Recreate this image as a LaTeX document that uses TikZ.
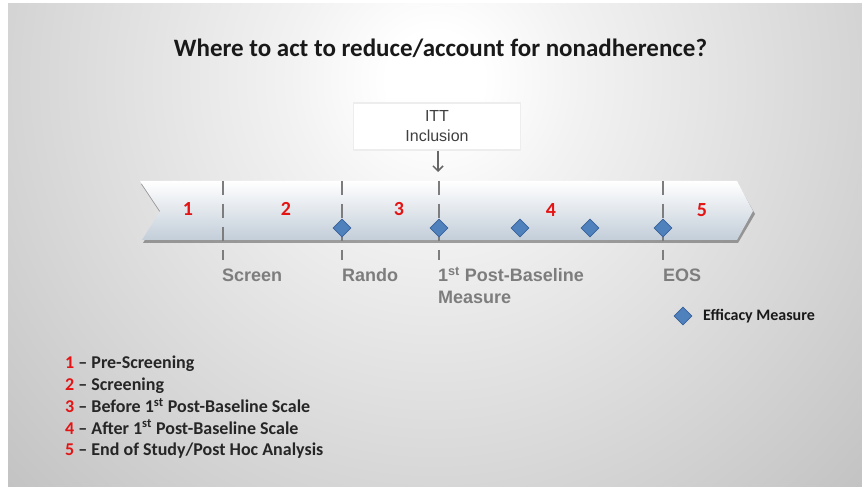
\documentclass[tikz,border=0pt]{standalone}
\usepackage{fontspec}
\setmainfont{Carlito}
\newfontfamily\arialf{Liberation Sans}
\usetikzlibrary{shapes.geometric}
\usetikzlibrary{arrows.meta}
\usetikzlibrary{positioning}
\definecolor{effblue}{RGB}{79,129,189}
\definecolor{effedge}{RGB}{56,98,155}
\definecolor{numred}{RGB}{228,20,20}
\definecolor{tickgray}{RGB}{125,125,125}
\definecolor{barlow}{RGB}{195,206,217}
\pgfdeclareradialshading{slidebg}{\pgfpoint{0bp}{0bp}}{color(0bp)=(white); color(2bp)=(white); color(6bp)=(gray!10!white); color(15bp)=(gray!28!white); color(25bp)=(gray!48!white); color(32bp)=(gray!64!white); color(36bp)=(gray!82!white); color(72bp)=(gray!84!white)}

\begin{document}
\begin{tikzpicture}[x=1pt, y=1pt,
  diam/.style={diamond, draw=effedge, fill=effblue, line width=0.8pt, inner sep=0pt, minimum width=18pt, minimum height=18pt},
  phase/.style={font=\bfseries\fontsize{20}{24}\selectfont, text=numred},
  phasetick/.style={draw=tickgray, line width=2pt, dash pattern=on 14pt off 9pt},
  ticklabel/.style={anchor=base west, inner sep=0pt, font=\arialf\bfseries\fontsize{18}{21}\selectfont, text=tickgray},
  listitem/.style={anchor=base west, inner sep=0pt, font=\bfseries\fontsize{18}{21}\selectfont, text=black!85}]
 \useasboundingbox (0,0) rectangle (862,487);
 \fill[white] (0,0) rectangle (862,487);
 \begin{scope}
   \clip (8,0) rectangle (862,483);
   \shade[shading=slidebg] (-165,-193) rectangle (1035,1007);
 \end{scope}

 \node[font=\bfseries\fontsize{25}{30}\selectfont, text=black!90, anchor=base, inner sep=0pt] (title) at (440.5,430) {Where to act to reduce/account for nonadherence?};

 \fill[gray!60!black, opacity=0.5] (141,303) -- (738,303) -- (755,273) -- (738,244) -- (143,244) -- (161,273) -- cycle;
 \shade[top color=white, bottom color=barlow] (140,306) -- (737,306) -- (753,276) -- (737,247) -- (142,247) -- (160,276) -- cycle;

 \foreach \x/\n in {223/scr, 342/ran, 439/pbm, 663/eos} {
   \coordinate (\n top) at (\x,306);
   \coordinate (\n bot) at (\x,227);
   \draw[phasetick] (\n top) -- (\n bot);
 }
 \foreach \x [count=\i] in {342,439,520,590,663}
   \node[diam] (m\i) at (\x,259) {};
 \foreach \x/\y [count=\i] in {188/278,286/278,399/278,551/277,702/277}
   \node[phase] (p\i) at (\x,\y) {\i};

 \node[ticklabel] (lscr) at (222,205) {Screen};
 \node[ticklabel] (lran) at (342,205) {Rando};
 \node[ticklabel] (lpbm) at (438,205) {1\textsuperscript{st} Post-Baseline};
 \node[ticklabel] (lmeas) at (438,183) {Measure};
 \node[ticklabel] (leos) at (663,205) {EOS};

 \node[draw=white!86!gray, line width=1.5pt, fill=white, minimum width=167pt, minimum height=47pt, align=center, font=\arialf\fontsize{16}{20}\selectfont, text=black!75] (itt) at (437,360.5) {ITT\\Inclusion};
 \coordinate (ittend) at (438,315);
 \draw[-{Straight Barb[length=5pt,width=10pt]}, gray!80!black, line width=1.5pt] (itt.south -| ittend) -- (ittend);

 \node[diam] (legdiam) at (683,171) {};
 \node[anchor=base west, inner sep=0pt, font=\bfseries\fontsize{16}{19}\selectfont, text=black!90] (legtext) at (703,166) {Efficacy Measure};

 \node[listitem] (item1) at (65,118) {\textcolor{numred}{1} -- Pre-Screening};
 \node[listitem] (item2) at (65,96.3) {\textcolor{numred}{2} -- Screening};
 \node[listitem] (item3) at (65,74.6) {\textcolor{numred}{3} -- Before 1\textsuperscript{st} Post-Baseline Scale};
 \node[listitem] (item4) at (65,52.9) {\textcolor{numred}{4} -- After 1\textsuperscript{st} Post-Baseline Scale};
 \node[listitem] (item5) at (65,31.2) {\textcolor{numred}{5} -- End of Study/Post Hoc Analysis};
\end{tikzpicture}
\end{document}
